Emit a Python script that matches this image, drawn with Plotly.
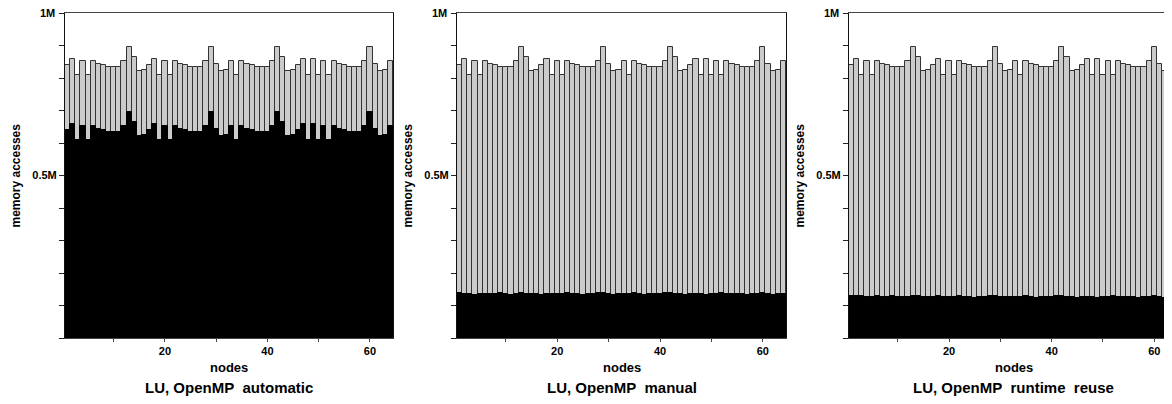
import plotly.graph_objects as go

# ---- data (values in millions of memory accesses) ----
nodes = list(range(1, 65))

total_accesses = [
    0.840, 0.857, 0.809, 0.853, 0.809, 0.853, 0.842, 0.841, 0.834, 0.834,
    0.834, 0.851, 0.894, 0.864, 0.822, 0.825, 0.839, 0.857, 0.809, 0.853,
    0.809, 0.853, 0.842, 0.841, 0.834, 0.834, 0.834, 0.851, 0.894, 0.844,
    0.822, 0.825, 0.852, 0.809, 0.853, 0.842, 0.841, 0.834, 0.834, 0.834,
    0.851, 0.894, 0.864, 0.822, 0.825, 0.839, 0.857, 0.809, 0.857, 0.809,
    0.853, 0.809, 0.853, 0.842, 0.841, 0.834, 0.834, 0.834, 0.851, 0.894,
    0.844, 0.822, 0.825, 0.853,
]

local_automatic = [
    0.640, 0.657, 0.609, 0.653, 0.609, 0.653, 0.642, 0.641, 0.634, 0.634,
    0.634, 0.651, 0.694, 0.664, 0.622, 0.625, 0.639, 0.657, 0.609, 0.653,
    0.609, 0.653, 0.642, 0.641, 0.634, 0.634, 0.634, 0.651, 0.694, 0.644,
    0.622, 0.625, 0.652, 0.609, 0.653, 0.642, 0.641, 0.634, 0.634, 0.634,
    0.651, 0.694, 0.664, 0.622, 0.625, 0.639, 0.657, 0.609, 0.657, 0.609,
    0.653, 0.609, 0.653, 0.642, 0.641, 0.634, 0.634, 0.634, 0.651, 0.694,
    0.644, 0.622, 0.625, 0.653,
]

local_manual = [
    0.137, 0.135, 0.136, 0.133, 0.134, 0.136, 0.135, 0.134, 0.137, 0.136,
    0.133, 0.135, 0.138, 0.136, 0.134, 0.135, 0.133, 0.136, 0.135, 0.134,
    0.136, 0.137, 0.134, 0.135, 0.133, 0.136, 0.135, 0.137, 0.139, 0.134,
    0.133, 0.135, 0.136, 0.134, 0.137, 0.135, 0.133, 0.136, 0.134, 0.135,
    0.137, 0.138, 0.136, 0.134, 0.133, 0.135, 0.136, 0.134, 0.133, 0.135,
    0.136, 0.137, 0.134, 0.135, 0.136, 0.134, 0.133, 0.135, 0.136, 0.139,
    0.134, 0.133, 0.135, 0.136,
]

local_reuse = [
    0.130, 0.128, 0.129, 0.126, 0.127, 0.129, 0.127, 0.126, 0.128, 0.127,
    0.125, 0.127, 0.129, 0.128, 0.126, 0.127, 0.125, 0.128, 0.126, 0.125,
    0.127, 0.128, 0.125, 0.126, 0.124, 0.127, 0.126, 0.128, 0.129, 0.126,
    0.125, 0.126, 0.127, 0.125, 0.128, 0.126, 0.124, 0.127, 0.125, 0.126,
    0.128, 0.129, 0.127, 0.125, 0.124, 0.126, 0.127, 0.125, 0.124, 0.126,
    0.127, 0.128, 0.125, 0.126, 0.127, 0.125, 0.124, 0.126, 0.127, 0.129,
    0.125, 0.124, 0.126, 0.127,
]

panel_titles = ["LU, OpenMP&nbsp; automatic", "LU, OpenMP&nbsp; manual",
                "LU, OpenMP&nbsp; runtime&nbsp; reuse"]
panel_locals = [local_automatic, local_manual, local_reuse]

y_tickvals = [0, 0.1, 0.2, 0.3, 0.4, 0.5, 0.6, 0.7, 0.8, 0.9, 1.0]
y_ticktext = ["", "", "", "", "", "<b>0.5M</b>", "", "", "", "", ""]
y_top_label = "<b>1M</b>"
x_tickvals = [10, 20, 30, 40, 50, 60]
x_ticktext = ["", "<b>20</b>", "", "<b>40</b>", "", "<b>60</b>"]

# ---- layout geometry (page pixels; the page body adds an 8px offset) ----
OFF = 8
W, H = 1172 - OFF, 404 - 2 * OFF
PLOT_TOP, PLOT_BOTTOM = 13 - OFF, 338 - OFF
PH = PLOT_BOTTOM - PLOT_TOP
panel_px = [(65 - OFF, 393 - OFF), (457 - OFF, 786 - OFF), (849 - OFF, 1178 - OFF)]
x_ranges = [[0.5, 64.5], [0.5, 64.5], [0.5, 63.46]]

FONT = "Arial, Liberation Sans, sans-serif"
GRAY = "#cbcbcb"

fig = go.Figure()
annotations = []
for i in range(3):
    xa = "x" if i == 0 else f"x{i+1}"
    ya = "y" if i == 0 else f"y{i+1}"
    fig.add_trace(go.Bar(x=nodes, y=total_accesses, xaxis=xa, yaxis=ya,
                         marker=dict(color=GRAY, line=dict(color="#333333", width=1)),
                         showlegend=False, hoverinfo="x+y"))
    fig.add_trace(go.Bar(x=nodes, y=panel_locals[i], xaxis=xa, yaxis=ya,
                         marker=dict(color="#000000", line=dict(color="#000000", width=1)),
                         showlegend=False, hoverinfo="x+y"))

    x0, x1 = panel_px[i]
    dom = [x0 / W, min(x1 / W, 1.0)]
    axx = dict(domain=dom, range=x_ranges[i], anchor=ya, tickmode="array",
               tickvals=x_tickvals, ticktext=x_ticktext, ticks="outside",
               ticklen=3, tickcolor="#444444", showline=True, linecolor="#444444",
               linewidth=1, mirror=True, showgrid=False, zeroline=False,
               tickfont=dict(family=FONT, size=11, color="black"))
    axy = dict(domain=[0, 1], range=[0, 1], anchor=xa, tickmode="array",
               tickvals=y_tickvals, ticktext=y_ticktext, ticks="outside",
               ticklen=5, tickcolor="#222222", showline=True, linecolor="#111111",
               linewidth=1, mirror=(i < 2), showgrid=False, zeroline=False,
               tickfont=dict(family=FONT, size=11, color="black"))
    fig.layout["xaxis" if i == 0 else f"xaxis{i+1}"] = axx
    fig.layout["yaxis" if i == 0 else f"yaxis{i+1}"] = axy

    cx = (panel_px[i][0] + panel_px[i][1]) / 2 / W
    annotations.append(dict(text=y_top_label, xref="paper", yref=f"{ya} domain",
                            x=(panel_px[i][0] - 8) / W, y=1.0,
                            xanchor="right", yanchor="middle", showarrow=False,
                            font=dict(family=FONT, size=11, color="black")))
    annotations.append(dict(text="<b>nodes</b>", xref="paper", yref="paper",
                            x=cx, y=(PLOT_BOTTOM - (367 - OFF)) / PH,
                            xanchor="center", yanchor="middle", showarrow=False,
                            font=dict(family=FONT, size=13, color="black")))
    annotations.append(dict(text=f"<b>{panel_titles[i]}</b>", xref="paper", yref="paper",
                            x=cx, y=(PLOT_BOTTOM - (387 - OFF)) / PH,
                            xanchor="center", yanchor="middle", showarrow=False,
                            font=dict(family=FONT, size=15, color="black")))
    annotations.append(dict(text="<b>memory accesses</b>", xref="paper", yref="paper",
                            x=(panel_px[i][0] - 50) / W, y=0.5, textangle=-90,
                            xanchor="center", yanchor="middle", showarrow=False,
                            font=dict(family=FONT, size=12, color="black")))

fig.update_layout(width=W, height=H, barmode="overlay", bargap=0,
                  margin=dict(l=0, r=0, t=PLOT_TOP, b=H - PLOT_BOTTOM),
                  paper_bgcolor="white", plot_bgcolor="white",
                  annotations=annotations)

fig.write_html("out.html")
